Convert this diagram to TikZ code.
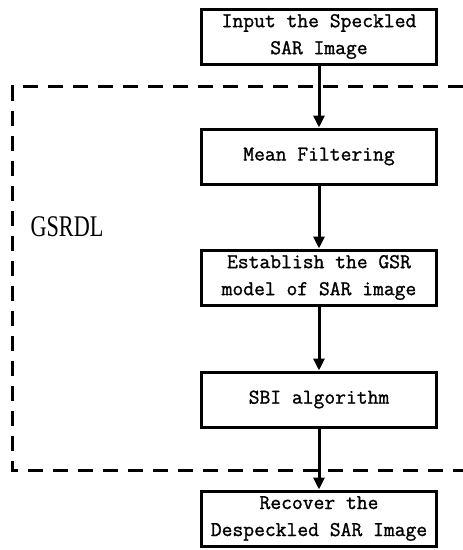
\documentclass[tikz,border=0pt]{standalone}
\usepackage{fontspec}
\usepackage{graphicx}
\newfontfamily\labelfont{Liberation Serif}
\setmonofont{Latin Modern Mono}[FakeBold=1.2]
\usetikzlibrary{arrows.meta}
\begin{document}
\begin{tikzpicture}[x=1pt,y=-1pt,
  flowbox/.style={draw=black,line width=3pt,minimum width=235pt,minimum height=55pt,inner sep=0pt,align=center,
    font=\fontsize{21}{27}\selectfont\ttfamily},
  flowarrow/.style={line width=3pt,-{Triangle[width=11pt,length=12pt]}},
  groupline/.style={line width=3pt,dash pattern=on 15pt off 10pt}]
\useasboundingbox (0,0) rectangle (463,550);
\fill[white] (0,0) rectangle (463,550);
\draw[groupline] (463,86) -- (12.5,86) -- (12.5,470) -- (463,470);
\node[flowbox] (input) at (319,36.5) {Input the Speckled\\SAR Image};
\node[flowbox] (mean) at (319,156.5) {Mean Filtering};
\node[flowbox] (gsr) at (319,277.5) {Establish the GSR\\model of SAR image};
\node[flowbox] (sbi) at (319,399.5) {SBI algorithm};
\node[flowbox] (output) at (319,518.5) {Recover the\\Despeckled SAR Image};
\node[inner sep=0pt] (gsrdl) at (67,227) {\scalebox{0.74}[1]{\fontsize{30}{30}\selectfont\labelfont GSRDL}};
\draw[flowarrow] (input) -- (mean);
\draw[flowarrow] (mean) -- (gsr);
\draw[flowarrow] (gsr) -- (sbi);
\draw[flowarrow] (sbi) -- (output);
\end{tikzpicture}
\end{document}
